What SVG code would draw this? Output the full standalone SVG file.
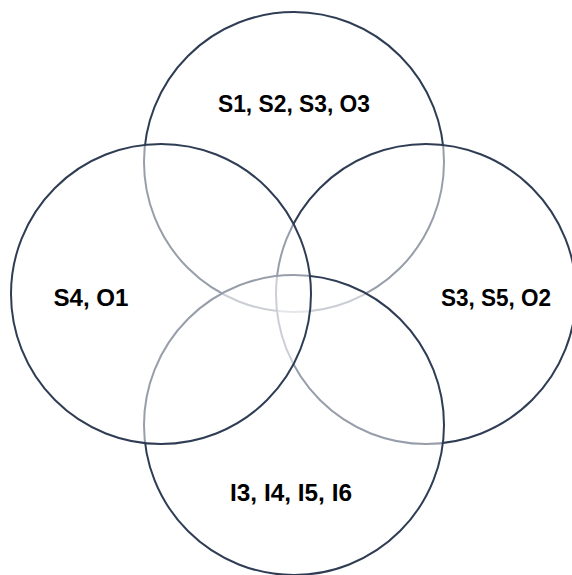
<svg xmlns="http://www.w3.org/2000/svg" width="572" height="575" viewBox="0 0 572 575">
<style>
.c{fill:#ffffff;fill-opacity:0.5;stroke:#2f3d54;stroke-width:2}
.t{font-family:"Liberation Sans",Arial,sans-serif;font-weight:bold;font-size:24px;fill:#000;text-anchor:middle}
</style>
<rect width="572" height="575" fill="#fff"/>
<g id="top"><circle class="c" cx="294" cy="162" r="150"/><text class="t" x="294" y="112" textLength="152" lengthAdjust="spacingAndGlyphs">S1, S2, S3, O3</text></g>
<g id="right"><circle class="c" cx="426" cy="294" r="150"/><text class="t" x="496" y="306" textLength="110" lengthAdjust="spacingAndGlyphs">S3, S5, O2</text></g>
<g id="bottom"><circle class="c" cx="294" cy="425" r="150"/><text class="t" x="291" y="501" textLength="122" lengthAdjust="spacingAndGlyphs">I3, I4, I5, I6</text></g>
<g id="left"><circle class="c" cx="161" cy="294" r="150"/><text class="t" x="91" y="306" textLength="75" lengthAdjust="spacingAndGlyphs">S4, O1</text></g>
<g id="connectors"></g>
</svg>
